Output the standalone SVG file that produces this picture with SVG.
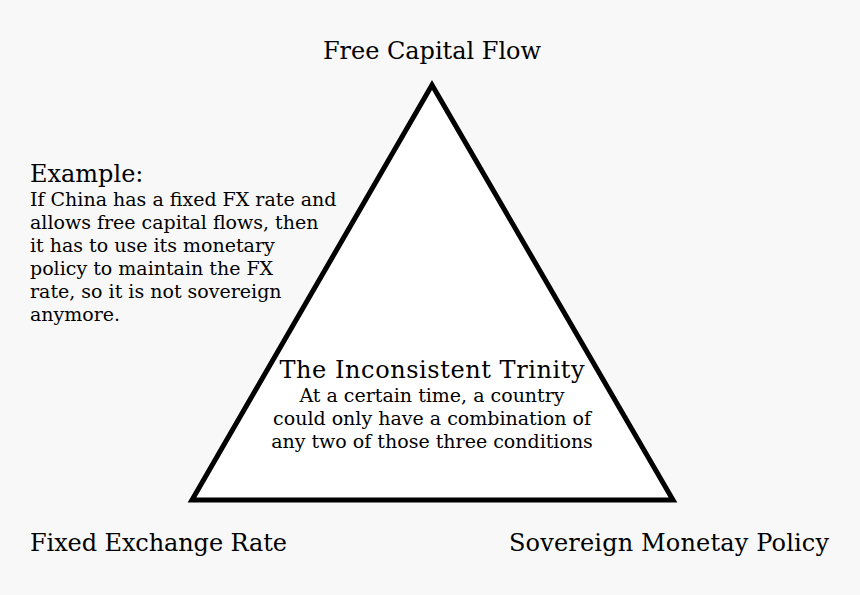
<svg xmlns="http://www.w3.org/2000/svg" width="860" height="595" viewBox="0 0 860 595">
<style>
text{font-family:"DejaVu Serif","Liberation Serif",serif;fill:#000}
.big{font-size:24px}
.sm{font-size:19px}
</style>
<rect width="860" height="595" fill="#f8f8f8"/>
<g id="triangle"><polygon points="432,85 192,500 673,500" fill="#fff" stroke="#000" stroke-width="5" stroke-linejoin="miter"/></g>
<g id="top"><text class="big" x="432" y="59" text-anchor="middle" textLength="218">Free Capital Flow</text></g>
<g id="left"><text class="big" x="30" y="551" textLength="257">Fixed Exchange Rate</text></g>
<g id="right"><text class="big" x="509" y="551" textLength="320">Sovereign Monetay Policy</text></g>
<g id="center">
<text class="big" x="432" y="378" text-anchor="middle" textLength="305">The Inconsistent Trinity</text>
<text class="sm" x="432" y="402" text-anchor="middle">At a certain time, a country</text>
<text class="sm" x="432" y="425" text-anchor="middle">could only have a combination of</text>
<text class="sm" x="432" y="448" text-anchor="middle">any two of those three conditions</text>
</g>
<g id="example">
<text class="big" x="30" y="182">Example:</text>
<text class="sm" x="30" y="206">If China has a fixed FX rate and</text>
<text class="sm" x="30" y="229">allows free capital flows, then</text>
<text class="sm" x="30" y="252">it has to use its monetary</text>
<text class="sm" x="30" y="275">policy to maintain the FX</text>
<text class="sm" x="30" y="298">rate, so it is not sovereign</text>
<text class="sm" x="30" y="321">anymore.</text>
</g>
<g id="connectors"/>
</svg>
